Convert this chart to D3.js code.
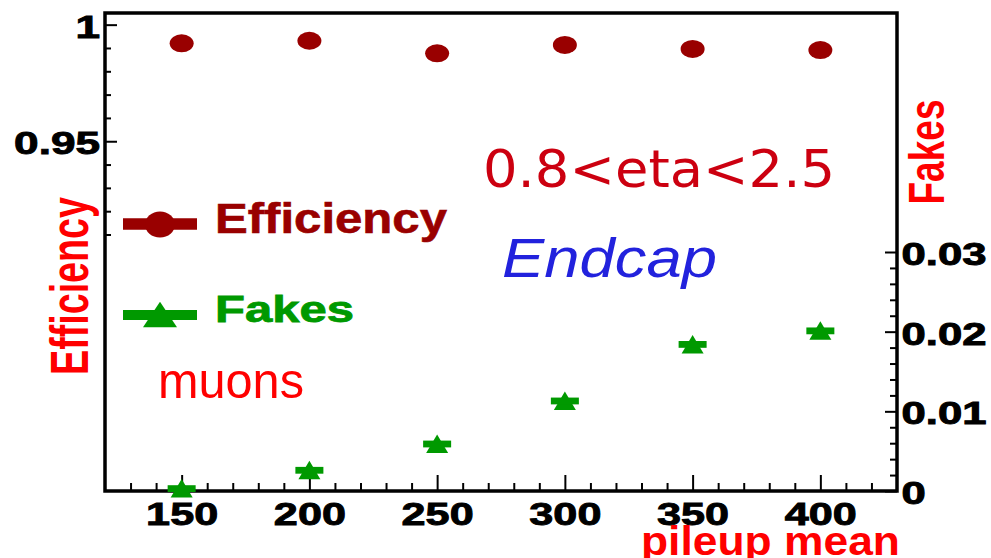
<!DOCTYPE html>
<html><head><meta charset="utf-8">
<script src="https://cdn.jsdelivr.net/npm/d3@7"></script>
<style>html,body{margin:0;padding:0;background:#fff;overflow:hidden}</style>
</head><body>
<svg id="c" width="991" height="558"></svg>
<script>
// ---- data ----
const pileup = [150, 200, 250, 300, 350, 400];
const efficiency = [0.9920, 0.9931, 0.9877, 0.9913, 0.9896, 0.9891];
const fakes = [0.0003, 0.0026, 0.0059, 0.0113, 0.0184, 0.0201];

const xMajorTicks = [150, 200, 250, 300, 350, 400];
const xMinorTicks = [130, 140, 160, 170, 180, 190, 210, 220, 230, 240, 260, 270, 280, 290,
                     310, 320, 330, 340, 360, 370, 380, 390, 410, 420];
const effMajorTicks = [0.95, 1.0];
const effTickLabels = ["0.95", "1"];
const effMinorTicks = [0.91, 0.92, 0.93, 0.94, 0.96, 0.97, 0.98, 0.99];
const fakeMajorTicks = [0, 0.01, 0.02, 0.03];
const fakeTickLabels = ["0", "0.01", "0.02", "0.03"];
const fakeMinorTicks = [0.002, 0.004, 0.006, 0.008, 0.012, 0.014, 0.016, 0.018,
                        0.022, 0.024, 0.026, 0.028];

const effColor = "#990000", fakeColor = "#009900";

const svg = d3.select("#c");
const L = 105, R = 897, T = 13, B = 491;

const x = d3.scaleLinear().domain([120, 430]).range([L, R]);
const yE = d3.scaleLinear().domain([0.8, 1.005]).range([B, T]);
const yF = d3.scaleLinear().domain([0, 0.06]).range([B, T]);

function styleTicks(g) {
  g.select(".domain").remove();
  g.selectAll(".tick line").attr("stroke", "#000").attr("stroke-width", 2);
}
function styleLabels(g, anchor, dx, dy, sx, fs) {
  g.selectAll(".tick text")
    .attr("x", 0).attr("y", 0).attr("dy", null)
    .attr("text-anchor", anchor)
    .attr("fill", "#000")
    .attr("stroke", "#000").attr("stroke-width", 0.9)
    .style("font-family", "'Liberation Sans', Arial, sans-serif")
    .style("font-weight", "bold")
    .style("font-size", fs + "px")
    .attr("transform", `translate(${dx},${dy}) scale(${sx},1)`);
}

// bottom axis (ticks pointing up)
svg.append("g").attr("transform", `translate(0,${B})`)
  .call(d3.axisTop(x).tickValues(xMinorTicks).tickSize(8).tickFormat(""))
  .call(styleTicks);
svg.append("g").attr("transform", `translate(0,${B})`)
  .call(d3.axisTop(x).tickValues(xMajorTicks).tickSize(16).tickFormat(d3.format("d")))
  .call(styleTicks)
  .call(g => styleLabels(g, "middle", 0, 33.5, 1.35, 32));

// left axis (efficiency), ticks pointing right
svg.append("g").attr("transform", `translate(${L},0)`)
  .call(d3.axisRight(yE).tickValues(effMinorTicks).tickSize(6).tickFormat(""))
  .call(styleTicks);
svg.append("g").attr("transform", `translate(${L},0)`)
  .call(d3.axisRight(yE).tickValues(effMajorTicks).tickSize(12)
        .tickFormat((d, i) => effTickLabels[i]))
  .call(styleTicks)
  .call(g => styleLabels(g, "end", -5, 12.5, 1.38, 32));

// right axis (fakes), ticks pointing left
svg.append("g").attr("transform", `translate(${R},0)`)
  .call(d3.axisLeft(yF).tickValues(fakeMinorTicks).tickSize(7).tickFormat(""))
  .call(styleTicks);
svg.append("g").attr("transform", `translate(${R},0)`)
  .call(d3.axisLeft(yF).tickValues(fakeMajorTicks).tickSize(12)
        .tickFormat((d, i) => fakeTickLabels[i]))
  .call(styleTicks)
  .call(g => styleLabels(g, "start", 4.6, 12.5, 1.43, 30.5));

// frame
svg.append("rect").attr("x", L).attr("y", T).attr("width", R - L).attr("height", B - T)
  .attr("fill", "none").attr("stroke", "#000").attr("stroke-width", 3.5);

// efficiency markers
svg.append("g").selectAll("ellipse").data(pileup).join("ellipse")
  .attr("cx", (d) => x(d)).attr("cy", (d, i) => yE(efficiency[i]))
  .attr("rx", 12).attr("ry", 9).attr("fill", effColor);

// fakes markers (triangle + short horizontal bar)
const fg = svg.append("g").selectAll("g").data(pileup).join("g")
  .attr("transform", (d, i) => `translate(${x(d)},${yF(fakes[i])})`)
  .attr("fill", fakeColor);
fg.append("path").attr("d", "M0,-9.5 L11,9 L-11,9 Z");
fg.append("rect").attr("x", -14).attr("y", -3.4).attr("width", 28).attr("height", 6.8);

// legend
const lg = svg.append("g");
lg.append("line").attr("x1", 123).attr("x2", 197).attr("y1", 224).attr("y2", 224)
  .attr("stroke", effColor).attr("stroke-width", 11.5);
lg.append("ellipse").attr("cx", 160).attr("cy", 224.5).attr("rx", 15).attr("ry", 13).attr("fill", effColor);
lg.append("line").attr("x1", 123).attr("x2", 197).attr("y1", 315).attr("y2", 315)
  .attr("stroke", fakeColor).attr("stroke-width", 10);
lg.append("path").attr("d", "M160,301.7 L177,327.3 L143,327.3 Z").attr("fill", fakeColor);

function txt(str, o) {
  const t = svg.append("text").text(str)
    .attr("x", o.x).attr("y", o.y)
    .attr("fill", o.fill)
    .attr("text-anchor", "start")
    .style("font-family", o.family || "'Liberation Sans', Arial, sans-serif")
    .style("font-weight", o.weight || "normal")
    .style("font-style", o.style || "normal")
    .style("font-size", o.size + "px");
  if (o.len) t.attr("textLength", o.len).attr("lengthAdjust", "spacingAndGlyphs");
  if (o.transform) t.attr("transform", o.transform);
  if (o.stroke) t.attr("stroke", o.fill).attr("stroke-width", o.stroke);
  return t;
}

txt("Efficiency", {x: 215, y: 232.7, fill: effColor, weight: "bold", size: 42, len: 232, stroke: 0.6});
txt("Fakes", {x: 215, y: 321.7, fill: fakeColor, weight: "bold", size: 37, len: 139, stroke: 0.8});
txt("muons", {x: 158, y: 398.3, fill: "#ff0000", size: 50, len: 146});
txt("0.8<eta<2.5", {x: 483, y: 186.7, fill: "#cc0010", size: 52, len: 352,
                    family: "'DejaVu Sans', Verdana, sans-serif"});
txt("Endcap", {x: 502, y: 276.7, fill: "#2222dd", size: 56, style: "italic", len: 215});

// axis titles
txt("Efficiency", {x: 0, y: 0, fill: "#ff0000", weight: "bold", size: 53, len: 178,
                   transform: "translate(87.5,375) rotate(-90)"});
txt("Fakes", {x: 0, y: 0, fill: "#ff0000", weight: "bold", size: 50, len: 105,
              transform: "translate(943.5,204.5) rotate(-90)"});
txt("pileup mean", {x: 641, y: 555, fill: "#ff0000", weight: "bold", size: 40, len: 259});
</script>
</body></html>
